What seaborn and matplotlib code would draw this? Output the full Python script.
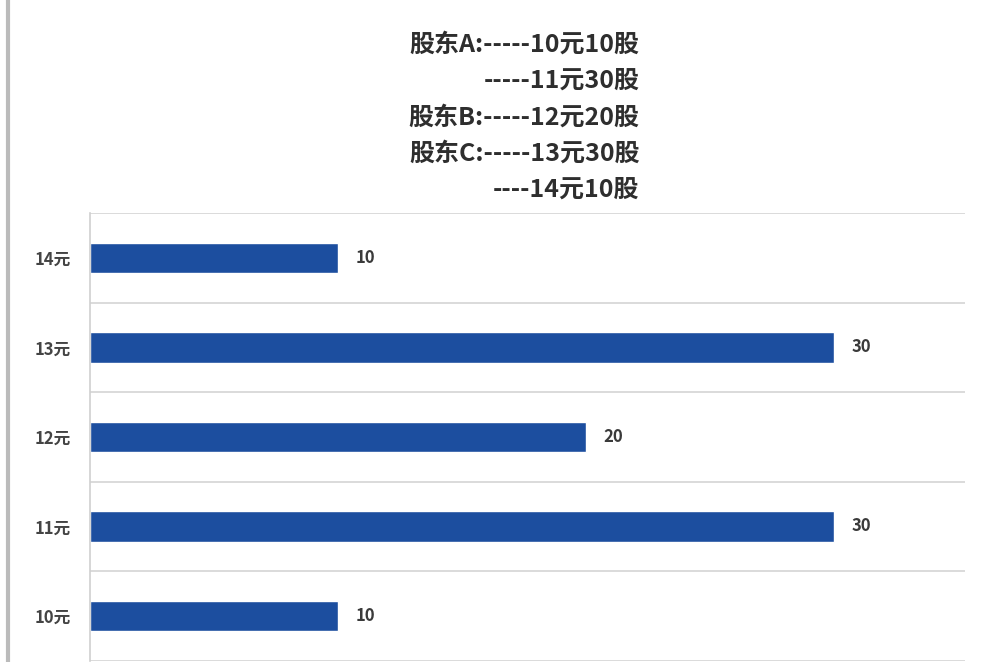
import matplotlib
matplotlib.use("Agg")
import matplotlib.pyplot as plt
from matplotlib.lines import Line2D
import seaborn as sns
import pandas as pd

# ---------------------------------
# data
# ---------------------------------
prices = ["14元", "13元", "12元", "11元", "10元"]
shares = [10, 30, 20, 30, 10]
note_lines = [
    "股东A:-----10元10股",
    "-----11元30股",
    "股东B:-----12元20股",
    "股东C:-----13元30股",
    "----14元10股",
]

df = pd.DataFrame({"price": prices, "shares": shares})

sns.set_theme(style="white")
plt.rcParams["font.family"] = ["Noto Sans CJK SC", "DejaVu Sans"]

fig = plt.figure(figsize=(9.9, 6.62), dpi=100)
ax = fig.add_axes([0.091, 0.002, 0.884, 0.676])

sns.barplot(data=df, x="shares", y="price", order=prices, orient="h",
            color="#1c4e9f", saturation=1, width=0.34, ax=ax)

ax.set_xlim(0, 35.3)
ax.set_ylim(len(prices) - 0.5, -0.5)

# gridlines between categories
ax.set_yticks([i - 0.5 for i in range(len(prices) + 1)], minor=True)
ax.grid(which="minor", axis="y", color="#d4d4d4", linewidth=1.2)
ax.tick_params(axis="y", which="both", length=0, labelsize=12, labelcolor="#444444", pad=14)
for lbl in ax.get_yticklabels():
    lbl.set_fontweight("bold")
ax.set_xticks([])
ax.set_xlabel("")
ax.set_ylabel("")

for s in ["top", "right", "bottom"]:
    ax.spines[s].set_visible(False)
ax.spines["left"].set_color("#d0d0d0")
ax.spines["left"].set_linewidth(1.2)

# value labels
for i, v in enumerate(shares):
    ax.text(v + 0.7, i, str(v), va="center", ha="left",
            fontsize=12, color="#3a3a3a", fontweight="bold")

# note text above the plot
for i, line in enumerate(note_lines):
    fig.text(0.646, 0.932 - i * 0.0545, line, ha="right", va="center",
             fontsize=18, color="#2e2e2e", fontweight="bold")

# left frame line
fig.add_artist(Line2D([0.008, 0.008], [0, 1], color="#bbbbbb", linewidth=3))

fig.savefig("out.png", dpi=100)
